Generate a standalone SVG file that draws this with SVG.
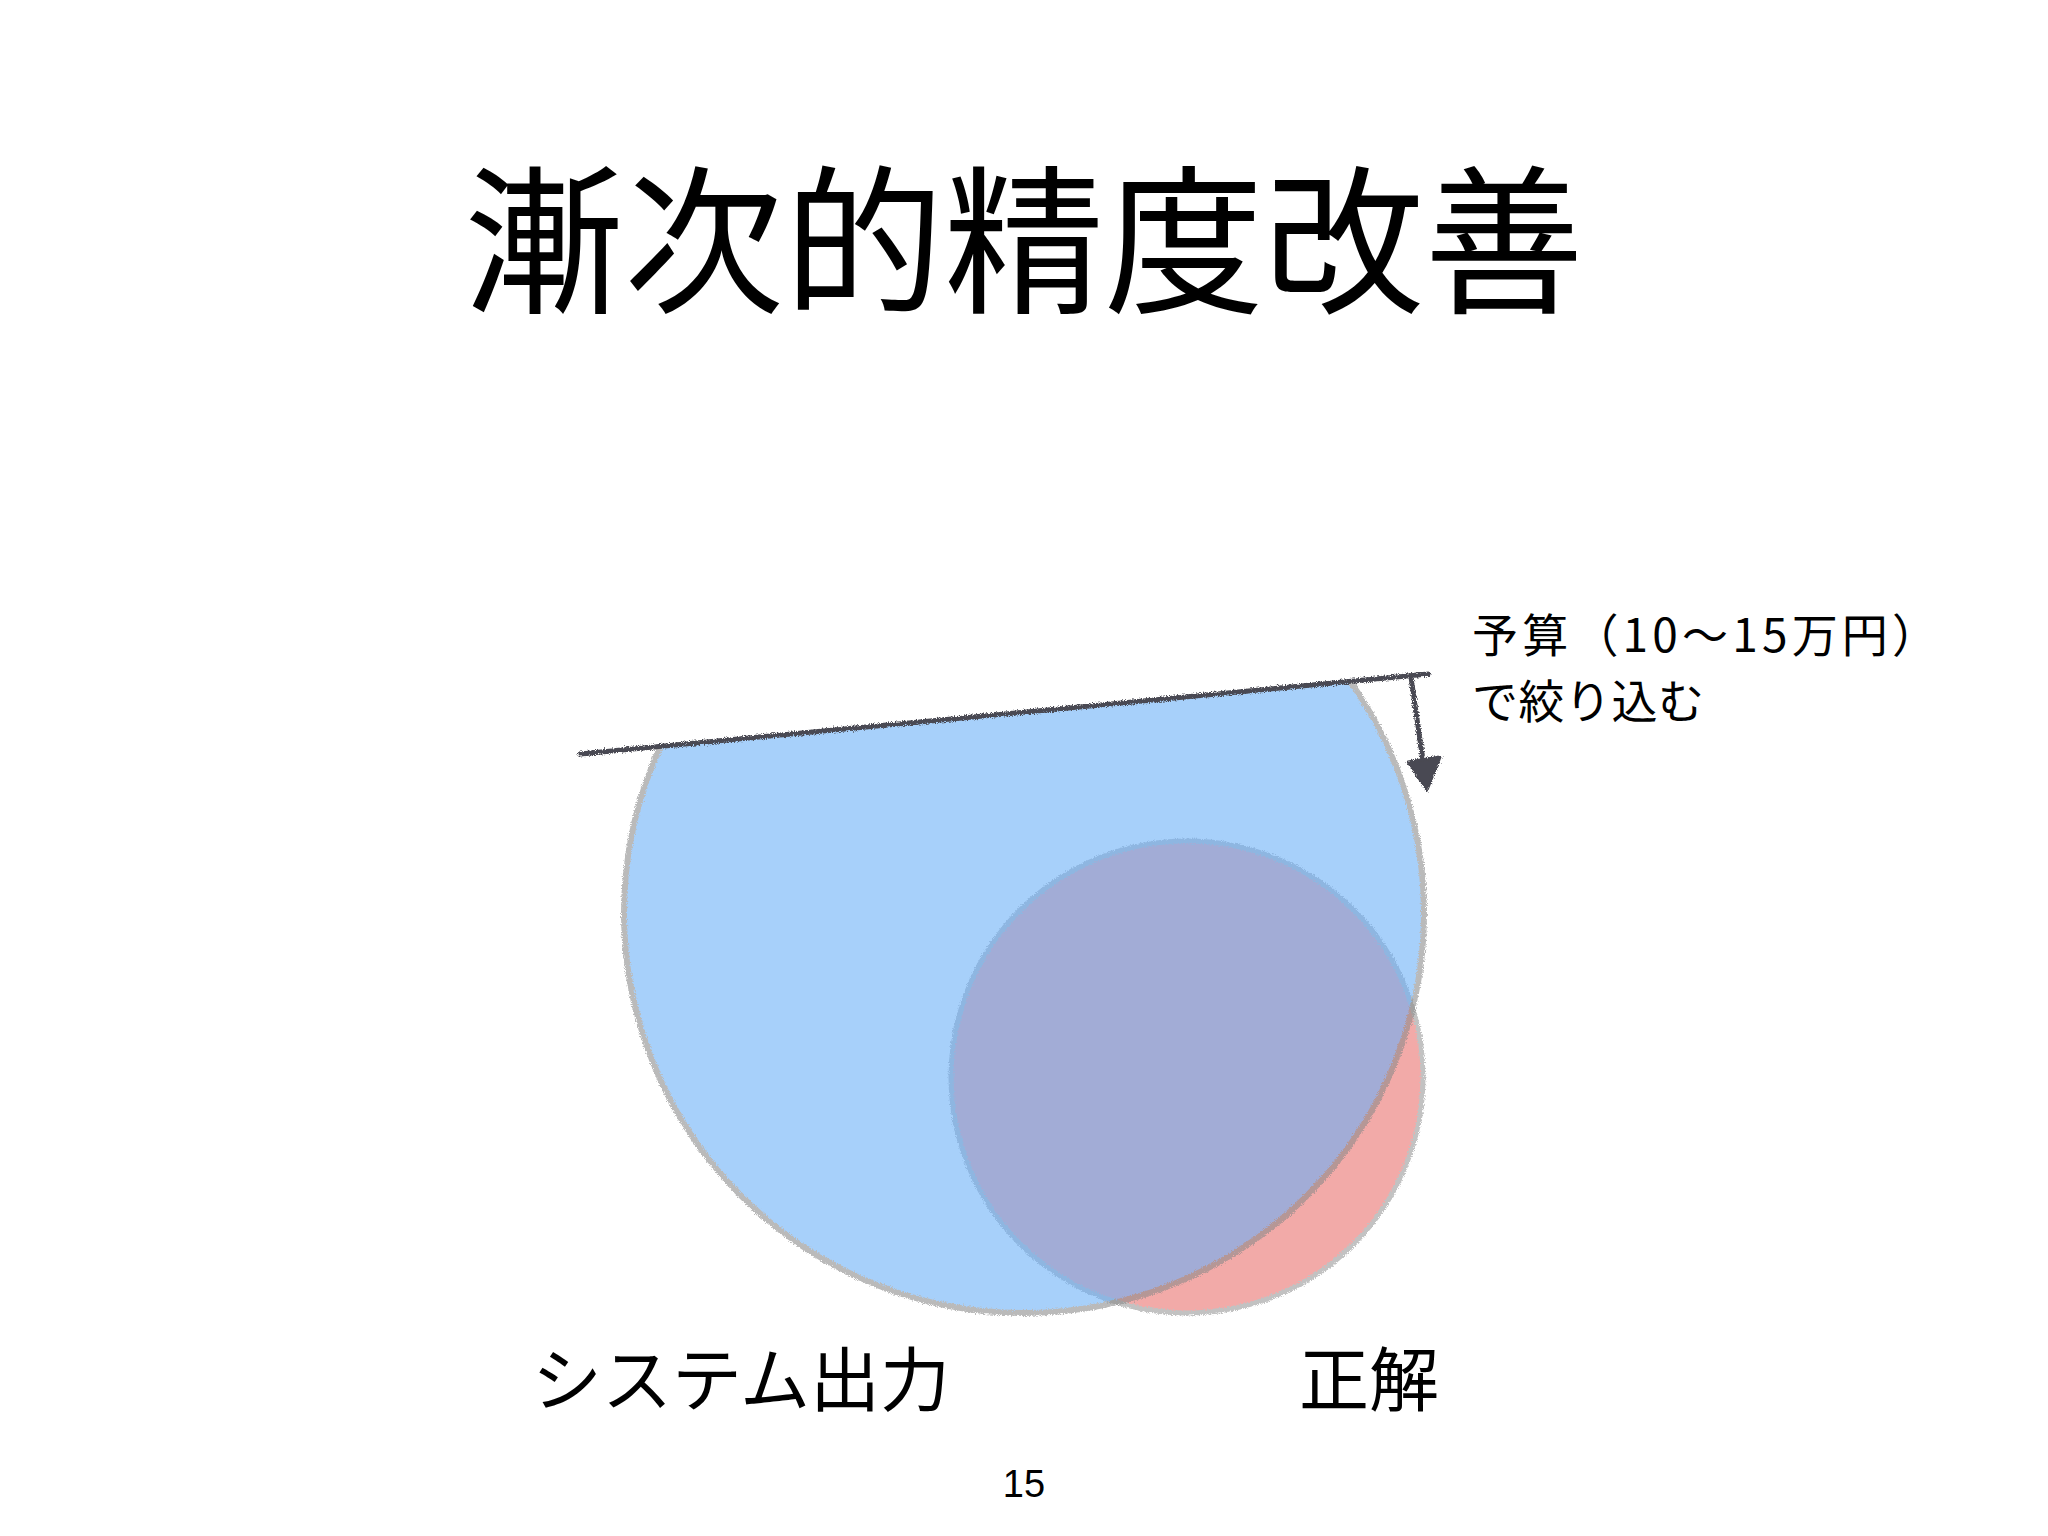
<svg xmlns="http://www.w3.org/2000/svg" width="2048" height="1536" viewBox="0 0 2048 1536">
<style>
.jp{font-family:"Noto Sans CJK JP","Noto Sans",sans-serif;fill:#000}
.pen{fill:none;stroke:#4a4a52;stroke-width:5;stroke-linecap:round;stroke-linejoin:round}
</style>
<defs>
<filter id="rough" x="-5%" y="-5%" width="110%" height="110%">
<feTurbulence type="fractalNoise" baseFrequency="0.9" numOctaves="2" seed="3" result="n"/>
<feDisplacementMap in="SourceGraphic" in2="n" scale="5" xChannelSelector="R" yChannelSelector="G"/>
</filter>
<clipPath id="belowLine">
<polygon points="0,808 2048,616 2048,1536 0,1536"/>
</clipPath>
</defs>
<rect width="2048" height="1536" fill="#fff"/>
<text class="jp" x="1024" y="301" font-size="160" text-anchor="middle">漸次的精度改善</text>
<g id="correct" filter="url(#rough)">
<circle cx="1187" cy="1077" r="236" fill="#F2AAA8" stroke="#c2c2c2" stroke-width="5"/>
</g>
<g id="system-output" filter="url(#rough)" opacity="0.58">
<circle cx="1024" cy="913" r="400" fill="#69AFF8" stroke="#8a8a8a" stroke-width="6" clip-path="url(#belowLine)"/>
</g>
<g id="connectors" filter="url(#rough)">
<line class="pen" x1="580" y1="754" x2="1428" y2="674"/>
<path class="pen" d="M1411,677 L1424,768"/>
<polygon points="1408,762 1440,757 1427,790" fill="#4a4a52" stroke="#4a4a52" stroke-width="3" stroke-linejoin="round"/>
</g>
<g id="budget-note">
<text class="jp" x="1472" y="652" font-size="46" textLength="466" lengthAdjust="spacing">予算（10〜15万円）</text>
<text class="jp" x="1472" y="718" font-size="46" textLength="232" lengthAdjust="spacing">で絞り込む</text>
</g>
<text id="label-system" class="jp" x="532" y="1406" font-size="70">システム出力</text>
<text id="label-correct" class="jp" x="1299" y="1406" font-size="70">正解</text>
<text id="page" x="1024" y="1497" font-size="38" text-anchor="middle" font-family="Liberation Sans,sans-serif" fill="#000">15</text>
</svg>
